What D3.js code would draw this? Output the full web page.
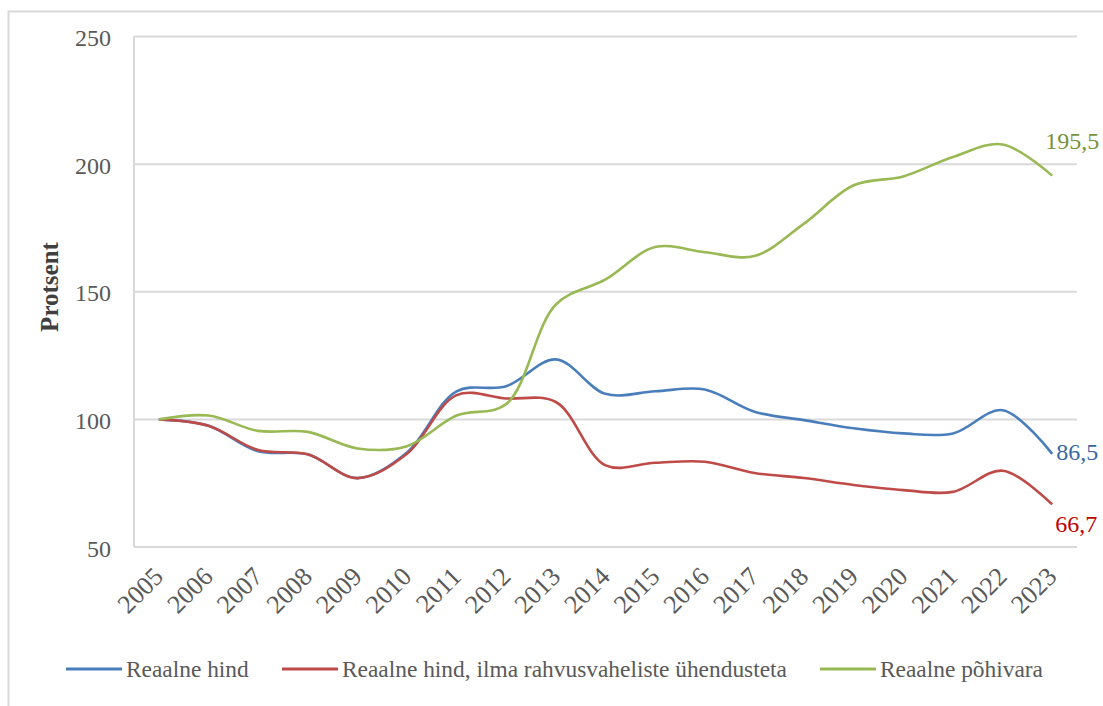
<!DOCTYPE html>
<html><head><meta charset="utf-8">
<script src="https://cdn.jsdelivr.net/npm/d3@7"></script>
<style>
body{margin:0;background:#fff;}
text{font-family:"Liberation Serif","Times New Roman",serif;}
</style></head>
<body><svg id="c" width="1103" height="706"></svg>
<script>
const years = ["2005","2006","2007","2008","2009","2010","2011","2012","2013","2014","2015","2016","2017","2018","2019","2020","2021","2022","2023"];
const realPrice = [100,97.5,87.5,86.3,77,87,111,113,123.5,110,111,111.7,103,99.7,96.5,94.5,94.5,103.6,86.5];
const realPriceNoIntl = [100,97.5,88,86.3,77,86.5,109.5,108.2,106.8,82,83,83.4,79,77,74.3,72.3,71.6,79.9,66.7];
const realAssets = [100,101.5,95.5,95.1,88.6,89.5,101.5,106,145,154.8,167.5,165.5,164,176.7,191.7,195.2,202.8,207.7,195.5];
const yTicks = [50,100,150,200,250];
const seriesNames = ["Reaalne hind","Reaalne hind, ilma rahvusvaheliste ühendusteta","Reaalne põhivara"];
const endLabels = ["86,5","66,7","195,5"];

const series = [
  {name:seriesNames[0], values:realPrice, color:"#4a7ebb", label:endLabels[0], labelColor:"#3a66a3"},
  {name:seriesNames[1], values:realPriceNoIntl, color:"#be4b48", label:endLabels[1], labelColor:"#c00000"},
  {name:seriesNames[2], values:realAssets, color:"#98b954", label:endLabels[2], labelColor:"#77933c"}
];

const svg = d3.select("#c");
const L=134, R=1077, T=36.5, B=547;
const x = d3.scaleBand().domain(years).range([L,R]);
const y = d3.scaleLinear().domain([50,250]).range([B,T]);

// outer border
svg.append("rect").attr("x",8.5).attr("y",11.5).attr("width",1200).attr("height",800)
  .attr("fill","none").attr("stroke","#d9d9d9").attr("stroke-width",2);

// gridlines
svg.append("g").selectAll("line").data(yTicks).join("line")
  .attr("x1",L).attr("x2",R).attr("y1",d=>y(d)).attr("y2",d=>y(d))
  .attr("stroke","#d9d9d9").attr("stroke-width",2);
// vertical axis line
svg.append("line").attr("x1",L).attr("x2",L).attr("y1",T).attr("y2",B)
  .attr("stroke","#d9d9d9").attr("stroke-width",2);

// y tick labels
const yAxis = d3.axisLeft(y).tickValues(yTicks).tickSize(0).tickPadding(0);
const gy = svg.append("g").attr("transform",`translate(${L-23},0)`).call(yAxis);
gy.select(".domain").remove();
gy.selectAll("text").attr("font-size",24).attr("fill","#595959")
  .style("font-family","Liberation Serif").attr("dy","0.38em");

// x tick labels
const xAxis = d3.axisBottom(x).tickSize(0).tickPadding(0);
const gx = svg.append("g").attr("transform",`translate(0,${B+16})`).call(xAxis);
gx.select(".domain").remove();
gx.selectAll("text").attr("font-size",26).attr("fill","#595959")
  .style("font-family","Liberation Serif")
  .attr("text-anchor","end").attr("x",0).attr("y",0).attr("dy",0).attr("dx",0)
  .attr("transform","translate(6,15) rotate(-45)");

// y axis title
svg.append("text").attr("transform",`translate(58,287) rotate(-90)`)
  .attr("text-anchor","middle").attr("font-size",25).attr("font-weight","bold")
  .attr("fill","#404040").text("Protsent");

// lines
const line = d3.line().x((d,i)=>x(years[i])+x.bandwidth()/2).y(d=>y(d)).curve(d3.curveCatmullRom.alpha(0.5));
svg.append("g").selectAll("path").data(series).join("path")
  .attr("d",d=>line(d.values)).attr("fill","none")
  .attr("stroke",d=>d.color).attr("stroke-width",2.6);

// end labels
const last = years.length-1;
const lblOff = {"86,5":[4,6],"66,7":[3,28],"195,5":[-7,-27]};
svg.append("g").selectAll("text").data(series).join("text")
  .attr("x",d=>x(years[last])+x.bandwidth()/2+lblOff[d.label][0])
  .attr("y",d=>y(d.values[last])+lblOff[d.label][1])
  .attr("font-size",24).attr("fill",d=>d.labelColor).text(d=>d.label);

// legend
const legendX = [66,282,820];
const lg = svg.append("g").selectAll("g").data(series).join("g")
  .attr("transform",(d,i)=>`translate(${legendX[i]},669)`);
lg.append("line").attr("x1",0).attr("x2",56).attr("y1",0).attr("y2",0)
  .attr("stroke",d=>d.color).attr("stroke-width",3);
lg.append("text").attr("x",60).attr("y",0).attr("dy","0.35em")
  .attr("font-size",23.4).attr("fill","#595959").text(d=>d.name);
</script></body></html>
